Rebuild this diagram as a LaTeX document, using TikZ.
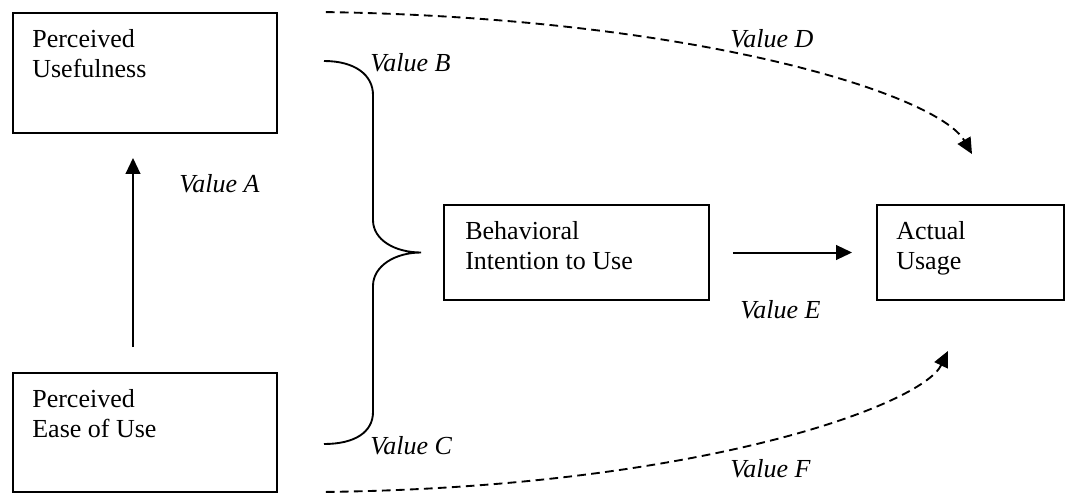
\documentclass[tikz,border=0pt]{standalone}
\usepackage{fontspec}
\setmainfont{Liberation Serif}
\usetikzlibrary{arrows.meta,fit,calc}
\begin{document}
\begin{tikzpicture}[x=0.75pt,y=-0.75pt,
  box/.style={draw, line width=1.4pt, inner sep=0pt},
  boxtext/.style={anchor=north west, inner sep=0pt, align=left,
    font=\fontsize{19.5}{22.9}\selectfont},
  vlabel/.style={anchor=base west, inner sep=0pt,
    font=\fontsize{19.5}{22.9}\selectfont\itshape},
  solidarrow/.style={line width=1.5pt, -{Triangle[length=12pt,width=11pt]}},
  dasharrow/.style={line width=1.4pt, dash pattern=on 6.5pt off 4pt,
    -{Triangle[length=12pt,width=11pt]}},
  bracestyle/.style={line width=1.4pt}]
\useasboundingbox (0,0) rectangle (1067,493);

% construct boxes
\node[box, fit={(13,13) (277,133)}] (pu) {};
\node[box, fit={(13,373) (277,492)}] (peou) {};
\node[box, fit={(444,205) (709,300)}] (bi) {};
\node[box, fit={(877,205) (1064,300)}] (au) {};

% box captions
\node[boxtext] (pu-t) at ($(pu.north west)+(20,17)$) {Perceived\\Usefulness};
\node[boxtext] (peou-t) at ($(peou.north west)+(20,17)$) {Perceived\\Ease of Use};
\node[boxtext] (bi-t) at ($(bi.north west)+(22,17)$) {Behavioral\\Intention to Use};
\node[boxtext] (au-t) at ($(au.north west)+(20,17)$) {Actual\\Usage};

% ease of use -> usefulness
\coordinate (a-from) at ($(peou.north)+(-12,-25)$);
\coordinate (a-to) at ($(pu.south)+(-12,24)$);
\draw[solidarrow] (a-from) -- (a-to);

% intention -> usage
\coordinate (e-from) at ($(bi.east)+(23,0)$);
\coordinate (e-to) at ($(au.west)+(-24,0)$);
\draw[solidarrow] (e-from) -- (e-to);

% brace joining both perceptions into intention
\coordinate (btip) at ($(bi.west)+(-22,0)$);
\draw[bracestyle] (324,61) .. controls (355,61) and (373,75) .. (373,95)
  -- (373,220) .. controls (373,240) and (395,252.5) .. (btip)
  .. controls (395,252.5) and (373,266) .. (373,286)
  -- (373,412) .. controls (373,432) and (355,444) .. (324,444);

% direct dashed paths to usage
\coordinate (d-from) at ($(pu.north east)+(48,0)$);
\coordinate (d-to) at ($(au.north)+(1.5,-50)$);
\draw[dasharrow] (d-from) .. controls (700,18) and (938,95) .. (d-to);

\coordinate (f-from) at ($(peou.south east)+(48,-1)$);
\coordinate (f-to) at ($(au.south)+(-22.5,50)$);
\draw[dasharrow] (f-from) .. controls (700,487) and (922,405) .. (f-to);

% path values
\node[vlabel] (va) at (179,192) {Value A};
\node[vlabel] (vb) at (370,71) {Value B};
\node[vlabel] (vc) at (370,454) {Value C};
\node[vlabel] (vd) at (730,47) {Value D};
\node[vlabel] (ve) at (740,318) {Value E};
\node[vlabel] (vf) at (730,477) {Value F};
\end{tikzpicture}
\end{document}
